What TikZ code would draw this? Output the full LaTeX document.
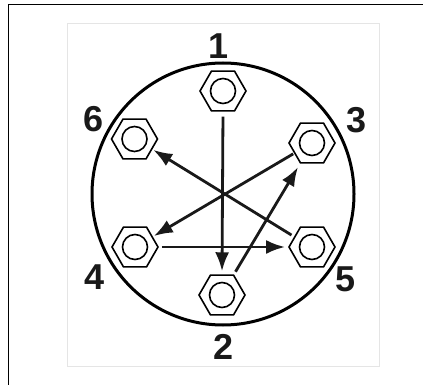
\documentclass[tikz,border=0pt]{standalone}
\usepackage{fontspec}
\setmainfont{Liberation Sans}
\usetikzlibrary{arrows.meta,shapes.geometric}

\begin{document}
\begin{tikzpicture}[x=1pt,y=-1pt,
bolt/.style={draw,regular polygon,regular polygon sides=6,minimum size=46pt,inner sep=0pt,line width=1.6pt},
hole/.style={draw,circle,minimum size=25pt,inner sep=0pt,line width=1.6pt},
num/.style={font=\bfseries\fontsize{36}{36}\selectfont,text=black!90,inner sep=0pt},
arr/.style={-{Latex[length=19pt,width=14pt]},line width=2.8pt,black!90}]
\useasboundingbox (0,0) rectangle (423,385);
\draw[line width=1pt] (8.5,385)--(8.5,4.5)--(423,4.5);
\draw[black!10,fill=white] (67.5,23) rectangle (379,366);
\node[draw,circle,minimum size=262pt,inner sep=0pt,line width=3pt] (ring) at (223,194) {};
% bolts
\node[bolt] (b1) at (223,91) {};
\node[bolt] (b2) at (222,295) {};
\node[bolt] (b3) at (312,143) {};
\node[bolt] (b4) at (135,247) {};
\node[bolt] (b5) at (312,247) {};
\node[bolt] (b6) at (134.5,139) {};
\foreach \n in {1,...,6} \node[hole] (h\n) at (b\n) {};
% numbers
\node[num] (n1) at (219,46) {1};
\node[num] (n2) at (224,347) {2};
\node[num] (n3) at (357,120) {3};
\node[num] (n4) at (95,277) {4};
\node[num] (n5) at (346,279) {5};
\node[num] (n6) at (94,119) {6};
% tightening order
\draw[arr,shorten <=5pt,shorten >=3pt] (b1.south)--(b2.north);
\draw[arr,shorten <=3pt,shorten >=4pt] (b2.60)--(b3.240);
\draw[arr,shorten <=1pt,shorten >=1pt] (b3.210)--(b4.30);
\draw[arr,shorten <=3pt,shorten >=3pt] (b4.east)--(b5.west);
\draw[arr,shorten <=3pt,shorten >=1pt] (b5.150)--(b6.330);
\end{tikzpicture}
\end{document}
